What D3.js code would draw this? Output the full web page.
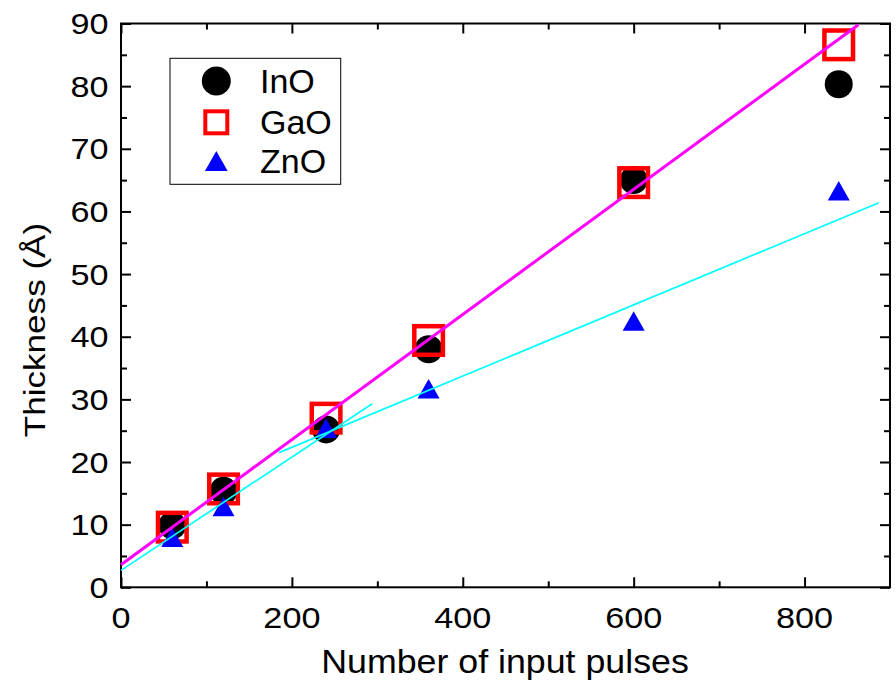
<!DOCTYPE html>
<html><head><meta charset="utf-8">
<script src="https://cdn.jsdelivr.net/npm/d3@7"></script>
<style>
html,body{margin:0;padding:0;background:#fff;}
text{font-family:"Liberation Sans",Arial,sans-serif;fill:#000;}
</style></head>
<body>
<svg id="chart" width="896" height="685"></svg>
<script>
// ---- data ----
const pulses = [60, 120, 240, 360, 600, 840];
const inO = [9.9, 15.4, 25.2, 38.0, 65.0, 80.3];
const gaO = [9.6, 15.7, 27.0, 39.4, 64.6, 86.6];
const znO = [8.0, 12.9, 25.4, 31.7, 42.5, 63.3];
// fitted lines (endpoints)
const fitAllX = [0, 863], fitAllY = [3.6, 89.8];
const fitZnEarlyX = [0, 294], fitZnEarlyY = [2.7, 29.3];
const fitZnLateX = [185, 887], fitZnLateY = [21.5, 61.4];
const xMajor = [0, 200, 400, 600, 800];
const xMinor = [100, 300, 500, 700];
const yMajor = [0, 10, 20, 30, 40, 50, 60, 70, 80, 90];
const yMinor = [5, 15, 25, 35, 45, 55, 65, 75, 85];
const legendNames = ["InO", "GaO", "ZnO"];

const svg = d3.select("#chart");
const L = 121, R = 890, T = 23.5, B = 587.3;
const x = d3.scaleLinear().domain([0, 900]).range([L, R]);
const y = d3.scaleLinear().domain([0, 90]).range([B, T]);

// ticks
function styleAxis(g){ g.select(".domain").remove(); g.selectAll(".tick line").attr("stroke","#000").attr("stroke-width",2); g.selectAll(".tick text").remove(); }
svg.append("g").attr("transform",`translate(0,${B})`).call(d3.axisBottom(x).tickValues(xMajor).tickSize(-10)).call(styleAxis);
svg.append("g").attr("transform",`translate(0,${B})`).call(d3.axisBottom(x).tickValues(xMinor).tickSize(-6)).call(styleAxis);
svg.append("g").attr("transform",`translate(0,${T})`).call(d3.axisTop(x).tickValues(xMajor).tickSize(-10)).call(styleAxis);
svg.append("g").attr("transform",`translate(0,${T})`).call(d3.axisTop(x).tickValues(xMinor).tickSize(-6)).call(styleAxis);
svg.append("g").attr("transform",`translate(${L},0)`).call(d3.axisLeft(y).tickValues(yMajor).tickSize(-10)).call(styleAxis);
svg.append("g").attr("transform",`translate(${L},0)`).call(d3.axisLeft(y).tickValues(yMinor).tickSize(-6)).call(styleAxis);
svg.append("g").attr("transform",`translate(${R},0)`).call(d3.axisRight(y).tickValues(yMajor).tickSize(-10)).call(styleAxis);
svg.append("g").attr("transform",`translate(${R},0)`).call(d3.axisRight(y).tickValues(yMinor).tickSize(-6)).call(styleAxis);

// frame
svg.append("rect").attr("x",L).attr("y",T).attr("width",R-L).attr("height",B-T)
  .attr("fill","none").attr("stroke","#000").attr("stroke-width",2);

// tick labels
const tickFont = 29.5, sx = 1.16;
svg.append("g").selectAll("g").data(xMajor).join("g")
  .attr("transform", d => `translate(${x(d)},${B+40.5}) scale(${sx},1)`)
  .append("text").attr("text-anchor","middle").attr("font-size",tickFont).text(d => d);
svg.append("g").selectAll("g").data(yMajor).join("g")
  .attr("transform", d => `translate(${L-12.5},${y(d)+10.5}) scale(${sx},1)`)
  .append("text").attr("text-anchor","end").attr("font-size",tickFont).text(d => d);

// axis titles
svg.append("g").attr("transform",`translate(505,673.3) scale(1.1,1)`)
  .append("text").attr("text-anchor","middle").attr("font-size",32.5).text("Number of input pulses");
svg.append("g").attr("transform",`translate(45,330) rotate(-90) scale(1.17,1)`)
  .append("text").attr("text-anchor","middle").attr("font-size",30).text("Thickness (Å)");

// markers
const triPath = (w,h) => `M0,${-h/2}L${w/2},${h/2}L${-w/2},${h/2}Z`;
svg.append("g").selectAll("circle").data(pulses).join("circle")
  .attr("cx", d => x(d)).attr("cy", (d,i) => y(inO[i])).attr("r",14).attr("fill","#000");
svg.append("g").selectAll("rect").data(pulses).join("rect")
  .attr("x", d => x(d)-14.3).attr("y", (d,i) => y(gaO[i])-14.3).attr("width",28.6).attr("height",28.6)
  .attr("fill","none").attr("stroke","#ff0000").attr("stroke-width",4.5);
svg.append("g").selectAll("path").data(pulses).join("path")
  .attr("transform", (d,i) => `translate(${x(d)},${y(znO[i])})`)
  .attr("d", triPath(22,19.5)).attr("fill","#0000ff");

// fit lines
const line = d3.line().x(d => x(d[0])).y(d => y(d[1]));
svg.append("path").attr("d", line(fitZnEarlyX.map((v,i)=>[v,fitZnEarlyY[i]])))
  .attr("fill","none").attr("stroke","#00ffff").attr("stroke-width",1.7);
svg.append("path").attr("d", line(fitZnLateX.map((v,i)=>[v,fitZnLateY[i]])))
  .attr("fill","none").attr("stroke","#00ffff").attr("stroke-width",1.7);
svg.append("path").attr("d", line(fitAllX.map((v,i)=>[v,fitAllY[i]])))
  .attr("fill","none").attr("stroke","#ff00ff").attr("stroke-width",3);

// legend
const lg = svg.append("g");
lg.append("rect").attr("x",170).attr("y",58.3).attr("width",170.7).attr("height",126)
  .attr("fill","#fff").attr("stroke","#000").attr("stroke-width",1);
const symX = 216.3, rowsY = [81, 122.3, 161];
lg.append("circle").attr("cx",symX).attr("cy",rowsY[0]).attr("r",14.5).attr("fill","#000");
lg.append("rect").attr("x",symX-11).attr("y",rowsY[1]-11).attr("width",22).attr("height",22)
  .attr("fill","none").attr("stroke","#ff0000").attr("stroke-width",4);
lg.append("path").attr("transform",`translate(${symX},${rowsY[2]})`).attr("d",triPath(22.7,20)).attr("fill","#0000ff");
lg.selectAll("text").data(legendNames).join("text")
  .attr("x",260).attr("y",(d,i) => rowsY[i]+12).attr("font-size",34).text(d => d);
</script>
</body></html>
